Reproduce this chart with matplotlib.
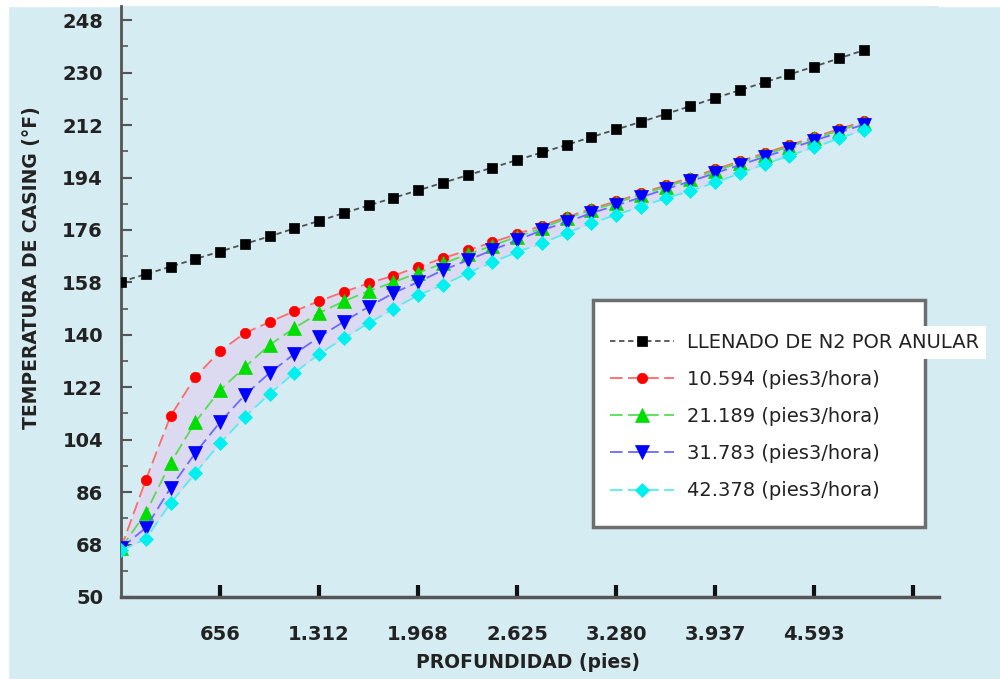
import matplotlib.pyplot as plt
from matplotlib.patches import Rectangle

# depth in feet (every 50 m) and casing temperature in F
depth_ft = [0, 164, 328, 492, 656, 820, 984, 1148, 1312, 1476, 1640, 1804, 1968,
            2133, 2297, 2461, 2625, 2789, 2953, 3117, 3281, 3445, 3609, 3773,
            3937, 4101, 4265, 4429, 4593, 4757, 4921]

temp_n2 = [158.2, 160.8, 163.4, 166.0, 168.6, 171.2, 173.8, 176.5, 179.1, 181.8,
           184.4, 187.0, 189.6, 192.2, 194.8, 197.4, 200.0, 202.6, 205.2, 207.9,
           210.5, 213.1, 215.8, 218.5, 221.3, 224.0, 226.7, 229.4, 232.1, 234.9, 237.7]

temp_10594 = [66.8, 90.1, 112.1, 125.5, 134.4, 140.6, 144.4, 148.1, 151.6, 154.7,
              157.7, 160.3, 163.3, 166.3, 169.0, 171.8, 174.6, 177.5, 180.4, 183.3,
              185.8, 188.6, 191.3, 194.0, 196.8, 199.6, 202.4, 205.1, 207.9, 210.6, 213.3]

temp_21189 = [66.8, 78.8, 96.0, 110.0, 121.0, 128.9, 136.5, 142.3, 147.5, 151.5,
              155.0, 158.0, 161.3, 164.5, 167.6, 170.6, 173.7, 176.6, 180.0, 182.8,
              185.3, 188.1, 190.8, 193.5, 196.3, 199.1, 201.9, 204.6, 207.4, 210.1, 212.8]

temp_31783 = [66.8, 73.7, 87.4, 99.4, 110.0, 119.3, 126.9, 133.4, 139.2, 144.5,
              149.6, 154.3, 158.1, 162.2, 165.6, 169.1, 172.5, 175.9, 178.7, 181.8,
              184.4, 187.2, 190.0, 192.7, 195.5, 198.3, 201.1, 203.9, 206.7, 209.4, 212.2]

temp_42378 = [66.0, 69.9, 82.2, 92.5, 102.8, 111.8, 119.7, 126.9, 133.4, 138.8,
              144.0, 148.9, 153.6, 157.1, 161.2, 164.9, 168.4, 171.5, 174.9, 178.3,
              181.2, 184.0, 186.9, 189.4, 192.3, 195.4, 198.6, 201.5, 204.4, 207.4, 210.3]

series_labels = ['LLENADO DE N2 POR ANULAR', '10.594 (pies3/hora)', '21.189 (pies3/hora)',
                 '31.783 (pies3/hora)', '42.378 (pies3/hora)']

x_ticks = [656, 1312, 1968, 2625, 3280, 3937, 4593, 5249]
x_ticklabels = ['656', '1.312', '1.968', '2.625', '3.280', '3.937', '4.593', '']
y_ticks = [50, 68, 86, 104, 122, 140, 158, 176, 194, 212, 230, 248]

bg = '#d4ecf2'

fig = plt.figure(figsize=(10, 6.79), dpi=100, facecolor=bg)
fig.add_artist(Rectangle((0, 1 - 6 / 679), 1, 6 / 679, transform=fig.transFigure,
                         color='white', zorder=0))
fig.add_artist(Rectangle((0, 0), 8 / 1000, 1, transform=fig.transFigure,
                         color='white', zorder=0))

ax = fig.add_axes([0.121, 0.1208, 0.818, 0.870])
ax.set_facecolor(bg)

ax.fill_between(depth_ft, temp_10594, temp_42378, color='#dcdaf0', lw=0, zorder=1)

styles = [
    (temp_n2, '#505050', 'black', 's', 6.5, (0, (3, 2))),
    (temp_10594, '#ff6a6a', '#ff0000', 'o', 7.5, (0, (7, 3))),
    (temp_21189, '#55dd55', '#00dd00', '^', 10, (0, (7, 3))),
    (temp_31783, '#6a6aff', '#0000ff', 'v', 10, (0, (7, 3))),
    (temp_42378, '#55eeee', '#00f0f0', 'D', 7, (0, (7, 3))),
]
for (vals, lc, mc, mk, ms, ls), lab in zip(styles, series_labels):
    ax.plot(depth_ft, vals, color=lc, linestyle=ls, linewidth=1.3, marker=mk,
            markersize=ms, markerfacecolor=mc, markeredgecolor=mc,
            markeredgewidth=0.5, label=lab, zorder=3)

ax.set_xlim(0, 5420)
ax.set_ylim(50, 252.8)

ax.set_xticks(x_ticks)
ax.set_xticklabels(x_ticklabels, fontweight='bold', fontsize=14, color='#222222')
ax.set_yticks(y_ticks)
ax.set_yticklabels([str(t) for t in y_ticks], fontweight='bold', fontsize=14, color='#222222')
ax.set_yticks([t + 9 for t in y_ticks[:-1]], minor=True)

ax.tick_params(axis='x', direction='in', length=9, width=3, color='#111111', pad=20)
ax.tick_params(axis='y', which='major', direction='in', length=8, width=1.5,
               color='#555555', pad=13)
ax.tick_params(axis='y', which='minor', direction='in', length=5, width=1.2,
               color='#555555')

for side in ['top', 'right']:
    ax.spines[side].set_visible(False)
ax.spines['left'].set_color('#555555')
ax.spines['left'].set_linewidth(2)
ax.spines['bottom'].set_color('#555555')
ax.spines['bottom'].set_linewidth(2.5)

ax.set_xlabel('PROFUNDIDAD (pies)', fontweight='bold', fontsize=13.5, color='#222222')
ax.set_ylabel('TEMPERATURA DE CASING (°F)', fontweight='bold', fontsize=13.5, color='#222222')
ax.xaxis.set_label_coords(0.4976, -0.095)
ax.yaxis.set_label_coords(-0.098, 0.557)

# legend box drawn by hand so the first label can run past it, as in the original
box = Rectangle((0.593, 1 - 527 / 679), 0.332, 227 / 679, transform=fig.transFigure,
                facecolor='white', edgecolor='#6e6e6e', linewidth=2.5,
                clip_on=False, zorder=4)
ax.add_patch(box)

leg = ax.legend(loc='upper left', bbox_to_anchor=(0.610, 1 - 333 / 679),
                bbox_transform=fig.transFigure, fontsize=14, handlelength=3.3,
                labelspacing=0.93, borderpad=0, handletextpad=0.67,
                borderaxespad=0, frameon=False)
leg.set_zorder(5)
for t in leg.get_texts():
    t.set_color('#222222')
leg.get_texts()[0].set_bbox(dict(facecolor='white', edgecolor='none', pad=5))

fig.savefig('out.png', dpi=100, facecolor=bg)
